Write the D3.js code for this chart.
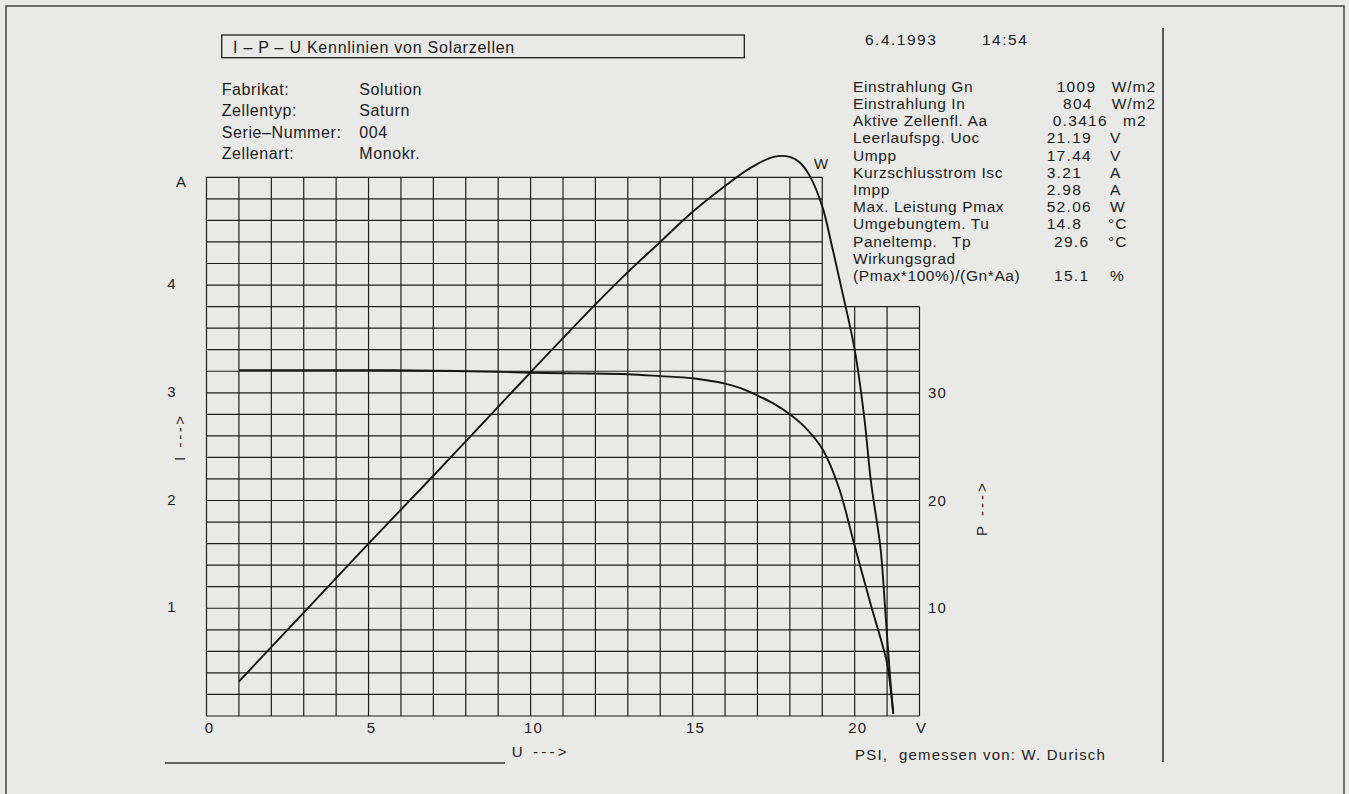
<!DOCTYPE html>
<html>
<head>
<meta charset="utf-8">
<script src="https://cdn.jsdelivr.net/npm/d3@7"></script>
<style>
  html, body { margin: 0; padding: 0; background: #e9e9e8; }
  svg { display: block; }
  text { font-family: "Liberation Sans", Arial, sans-serif; fill: #1c1c1c; }
</style>
</head>
<body>
<svg id="chart" width="1349" height="794"></svg>
<script>
// ---------- data ----------
const title = "I \u2013 P \u2013 U Kennlinien von Solarzellen";
const infoLabels = ["Fabrikat:", "Zellentyp:", "Serie\u2013Nummer:", "Zellenart:"];
const infoValues = ["Solution", "Saturn", "004", "Monokr."];

const dateText = "6.4.1993";
const timeText = "14:54";
const measLabels = ["Einstrahlung Gn", "Einstrahlung In", "Aktive Zellenfl. Aa", "Leerlaufspg. Uoc",
  "Umpp", "Kurzschlusstrom Isc", "Impp", "Max. Leistung Pmax", "Umgebungtem. Tu",
  "Paneltemp.   Tp", "Wirkungsgrad", "(Pmax*100%)/(Gn*Aa)"];
const measValues = ["1009", "804", "0.3416", "21.19", "17.44", "3.21", "2.98", "52.06", "14.8", "29.6", "", "15.1"];
const measUnits  = ["W/m2", "W/m2", "m2", "V", "V", "A", "A", "W", "\u00B0C", "\u00B0C", "", "%"];

const uTicks = [0, 5, 10, 15, 20];
const iTicks = [1, 2, 3, 4];
const pTicks = [10, 20, 30];

// I-U curve (V, A)
const curveIU = [1, 3, 5, 7, 9, 10, 11.5, 13, 14, 15, 16, 16.5, 17, 17.5, 18, 18.5, 19, 19.5, 20, 20.5, 20.8, 21, 21.19];
const curveI  = [3.21, 3.21, 3.21, 3.205, 3.195, 3.186, 3.18, 3.172, 3.155, 3.135, 3.085, 3.04, 2.975, 2.9, 2.8, 2.67, 2.48, 2.13, 1.58, 1.03, 0.72, 0.49, 0.03];
// P-U curve (V, W)
const curvePU = [1, 3, 5, 7, 9, 10, 12, 13, 14, 15, 16, 16.8, 17.5, 18, 18.3, 18.6, 19, 19.3, 19.6, 20, 20.3, 20.5, 20.8, 20.95, 21.1, 21.19];
const curveP  = [3.2, 9.6, 16.0, 22.3, 28.7, 31.9, 38.2, 41.2, 44.0, 46.8, 49.2, 50.9, 51.9, 51.9, 51.4, 50.2, 47.3, 43.6, 39.6, 34.0, 27.6, 21.8, 15.5, 9.5, 3.3, 0.2];

// ---------- scales ----------
const x = d3.scaleLinear().domain([0, 22]).range([206.5, 919.5]);
const y = d3.scaleLinear().domain([0, 5]).range([716, 177.3]);
const yP = d3.scaleLinear().domain([0, 50]).range([716, 177.3]);

const svg = d3.select("#chart");
const ink = "#1e1e1e";

// outer frame and separator
svg.append("rect").attr("x", 6).attr("y", 6).attr("width", 1338).attr("height", 800)
  .attr("fill", "none").attr("stroke", "#3a3a3a").attr("stroke-width", 1.4);
svg.append("line").attr("x1", 1163).attr("x2", 1163).attr("y1", 28).attr("y2", 762)
  .attr("stroke", ink).attr("stroke-width", 1.4);

// title box
svg.append("rect").attr("x", 221.7).attr("y", 35).attr("width", 522.6).attr("height", 22.7)
  .attr("fill", "none").attr("stroke", ink).attr("stroke-width", 1.3);
svg.append("text").attr("x", 233).attr("y", 53).attr("font-size", 16).attr("letter-spacing", 0.75).text(title);

// left info block
const infoG = svg.append("g").attr("font-size", 16).attr("letter-spacing", 0.6);
infoLabels.forEach((t, i) => {
  infoG.append("text").attr("x", 221.7).attr("y", 95 + i * 21.3).text(t);
  infoG.append("text").attr("x", 359.3).attr("y", 95 + i * 21.3).text(infoValues[i]);
});

// right block
const rg = svg.append("g").attr("font-size", 15.5).attr("letter-spacing", 0.6);
rg.append("text").attr("x", 865).attr("y", 45).attr("letter-spacing", 1.5).text(dateText);
rg.append("text").attr("x", 982).attr("y", 45).attr("letter-spacing", 1.5).text(timeText);
const valX = [1056.7, 1063, 1052.7, 1046.7, 1046.7, 1046.7, 1046.7, 1046.7, 1046.7, 1054, 1054, 1054];
const unitX = [1111.7, 1111.7, 1123, 1110, 1110, 1110, 1110, 1110, 1108, 1108, 1110, 1110];
measLabels.forEach((t, i) => {
  const yy = 91.7 + i * 17.2;
  rg.append("text").attr("x", 853).attr("y", yy).attr("xml:space", "preserve").text(t);
  if (measValues[i]) rg.append("text").attr("x", valX[i]).attr("y", yy).attr("letter-spacing", 1.3).text(measValues[i]);
  if (measUnits[i]) rg.append("text").attr("x", unitX[i]).attr("y", yy).attr("letter-spacing", 1.0).text(measUnits[i]);
});

// ---------- grid ----------
const grid = svg.append("g").attr("stroke", ink).attr("stroke-width", 1.2).attr("fill", "none");
d3.range(0, 23).forEach(v => {
  const top = v <= 19 ? 5 : 3.8;
  grid.append("line").attr("x1", x(v)).attr("x2", x(v)).attr("y1", y(0)).attr("y2", y(top));
});
d3.range(0, 26).forEach(k => {
  const a = k * 0.2;
  const right = a <= 3.81 ? 22 : 19;
  grid.append("line").attr("x1", x(0)).attr("x2", x(right)).attr("y1", y(a)).attr("y2", y(a));
});

// ---------- curves ----------
const lineIU = d3.line().x(d => x(d[0])).y(d => y(d[1])).curve(d3.curveCatmullRom.alpha(0.5));
const linePU = d3.line().x(d => x(d[0])).y(d => yP(d[1])).curve(d3.curveCatmullRom.alpha(0.5));
svg.append("path").datum(d3.zip(curveIU, curveI)).attr("d", lineIU)
  .attr("fill", "none").attr("stroke", "#151515").attr("stroke-width", 1.9);
svg.append("path").datum(d3.zip(curvePU, curveP)).attr("d", linePU)
  .attr("fill", "none").attr("stroke", "#151515").attr("stroke-width", 1.9);

// ---------- axis labels ----------
const tg = svg.append("g").attr("font-size", 15).attr("letter-spacing", 1.2);
uTicks.forEach(v => {
  tg.append("text").attr("x", x(v) + 3).attr("y", 733).attr("text-anchor", "middle").text(v);
});
tg.append("text").attr("x", x(22) + 2).attr("y", 733).attr("text-anchor", "middle").text("V");
iTicks.forEach(v => {
  tg.append("text").attr("x", 172).attr("y", y(v) - 1.5).attr("text-anchor", "middle")
    .attr("dominant-baseline", "central").text(v);
});
tg.append("text").attr("x", 181.7).attr("y", y(5) + 4).attr("text-anchor", "middle")
  .attr("dominant-baseline", "central").attr("font-size", 15).text("A");
pTicks.forEach(v => {
  tg.append("text").attr("x", 928).attr("y", yP(v) - 0.5).attr("dominant-baseline", "central").text(v);
});
svg.append("text").attr("x", 821).attr("y", 163).attr("text-anchor", "middle")
  .attr("dominant-baseline", "central").attr("font-size", 15).text("W");

// axis titles
svg.append("text").attr("x", 511.7).attr("y", 757).attr("font-size", 15).attr("letter-spacing", 3.2)
  .attr("xml:space", "preserve").text("U --->");
svg.append("line").attr("x1", 165).attr("x2", 505).attr("y1", 763).attr("y2", 763)
  .attr("stroke", "#333").attr("stroke-width", 1.6);
svg.append("text").attr("transform", "translate(185,461) rotate(-90)").attr("font-size", 15)
  .attr("letter-spacing", 2.6).attr("xml:space", "preserve").text("I --->");
svg.append("text").attr("transform", "translate(987,536) rotate(-90)").attr("font-size", 15)
  .attr("letter-spacing", 3.0).attr("xml:space", "preserve").text("P --->");
svg.append("text").attr("x", 855).attr("y", 760).attr("font-size", 15).attr("letter-spacing", 1.2)
  .attr("xml:space", "preserve").text("PSI,  gemessen von: W. Durisch");
</script>
</body>
</html>
